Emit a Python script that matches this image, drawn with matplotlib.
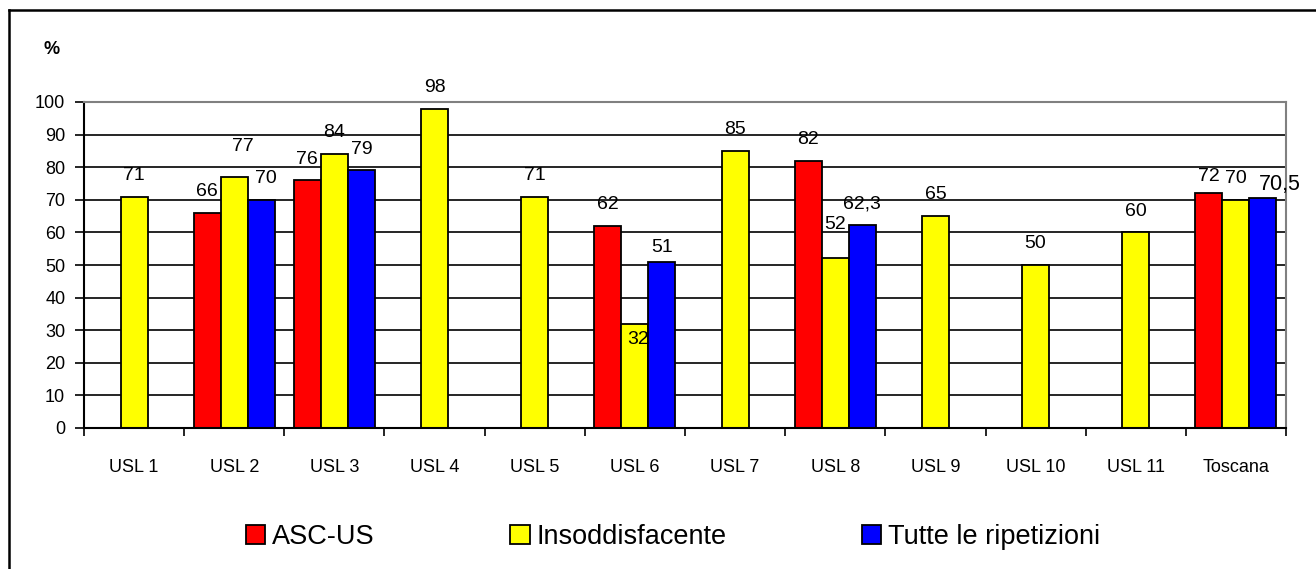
import numpy as np
import matplotlib
matplotlib.use("Agg")
import matplotlib.pyplot as plt
from matplotlib.patches import Patch
from matplotlib.lines import Line2D

categories = ["USL 1", "USL 2", "USL 3", "USL 4", "USL 5", "USL 6",
              "USL 7", "USL 8", "USL 9", "USL 10", "USL 11", "Toscana"]
series_names = ["ASC-US", "Insoddisfacente", "Tutte le ripetizioni"]
asc_us = [np.nan, 66, 76, np.nan, np.nan, 62, np.nan, 82, np.nan, np.nan, np.nan, 72]
insodd = [71, 77, 84, 98, 71, 32, 85, 52, 65, 50, 60, 70]
tutte = [np.nan, 70, 79, np.nan, np.nan, 51, np.nan, 62.3, np.nan, np.nan, np.nan, 70.5]
yticks = [0, 10, 20, 30, 40, 50, 60, 70, 80, 90, 100]

colors = ["#FF0000", "#FFFF00", "#0000FF"]
FONT = ["Liberation Sans", "DejaVu Sans"]
plt.rcParams["font.family"] = FONT

W, H = 1316, 569
fig = plt.figure(figsize=(W / 100, H / 100), dpi=100)
ax = fig.add_axes([84 / W, 1 - 428 / H, (1286 - 84) / W, (428 - 102) / H])

x = np.arange(len(categories))
bw = 0.27
offsets = [-bw, 0, bw]
all_series = [asc_us, insodd, tutte]

# label adjustments (points): (series index, category index) -> (dx, dy)
adjust = {
    (1, 1): (6, 7),
    (1, 5): None,  # inside bar
    (2, 5): (0, -5),
    (1, 7): (0, 9),
    (0, 11): (0, -3),
    (2, 11): (12, -6),
    (2, 1): (3, 0),
}

for si, (vals, off, col) in enumerate(zip(all_series, offsets, colors)):
    v = np.array(vals, dtype=float)
    ax.bar(x + off, v, width=bw, color=col, edgecolor="black",
           linewidth=1.3, zorder=3)
    for ci, val in enumerate(v):
        if np.isnan(val):
            continue
        txt = (f"{val:g}").replace(".", ",")
        key = (si, ci)
        if key in adjust and adjust[key] is None:
            ax.annotate(txt, (x[ci] + off, val), xytext=(2, -5),
                        textcoords="offset points", ha="center", va="top",
                        fontsize=14, zorder=5)
            continue
        dx, dy = adjust.get(key, (0, 0))
        fs = 15.5 if key == (2, 11) else 14
        ax.annotate(txt, (x[ci] + off, val), xytext=(dx, 12 + dy),
                    textcoords="offset points", ha="center", va="baseline",
                    fontsize=fs, zorder=5)

ax.set_xlim(-0.5, len(categories) - 0.5)
ax.set_ylim(0, 100)
ax.set_yticks(yticks)
ax.set_yticklabels([str(t) for t in yticks], fontsize=13)
for t in yticks[1:-1]:
    ax.axhline(t, color="black", linewidth=1.2, zorder=1)

ax.set_xticks(np.arange(len(categories) + 1) - 0.5)
ax.set_xticklabels([])
ax.set_xticks(x, minor=True)
ax.set_xticklabels(categories, minor=True, fontsize=13)
ax.tick_params(axis="x", which="major", direction="out", length=6, width=1.2, color="black")
ax.tick_params(axis="x", which="minor", length=0, pad=22)
ax.tick_params(axis="y", direction="out", length=6.5, width=1.2, pad=7)

for s in ["left", "bottom"]:
    ax.spines[s].set_color("black")
    ax.spines[s].set_linewidth(1.5)
for s in ["top", "right"]:
    ax.spines[s].set_color("#808080")
    ax.spines[s].set_linewidth(1.5)
ax.spines["bottom"].set_zorder(4)

fig.text(52 / W, 1 - 50 / H, "%", fontsize=13, fontweight="bold",
         ha="center", va="center")

handles = [Patch(facecolor=c, edgecolor="black", linewidth=1.3) for c in colors]
fig.legend(handles, series_names, loc="center", bbox_to_anchor=(673 / W, 1 - 537 / H),
           ncol=3, frameon=False, fontsize=19.5, handlelength=0.72, handleheight=0.72,
           handletextpad=0.25, columnspacing=5.0, borderpad=0)

# outer frame (top and left edges visible)
fig.add_artist(Line2D([9 / W, 9 / W], [0, 1 - 9.5 / H], transform=fig.transFigure,
                      color="black", linewidth=1.8))
fig.add_artist(Line2D([9 / W, 1], [1 - 9.5 / H, 1 - 9.5 / H], transform=fig.transFigure,
                      color="black", linewidth=1.8))

fig.savefig("out.png", dpi=100)
